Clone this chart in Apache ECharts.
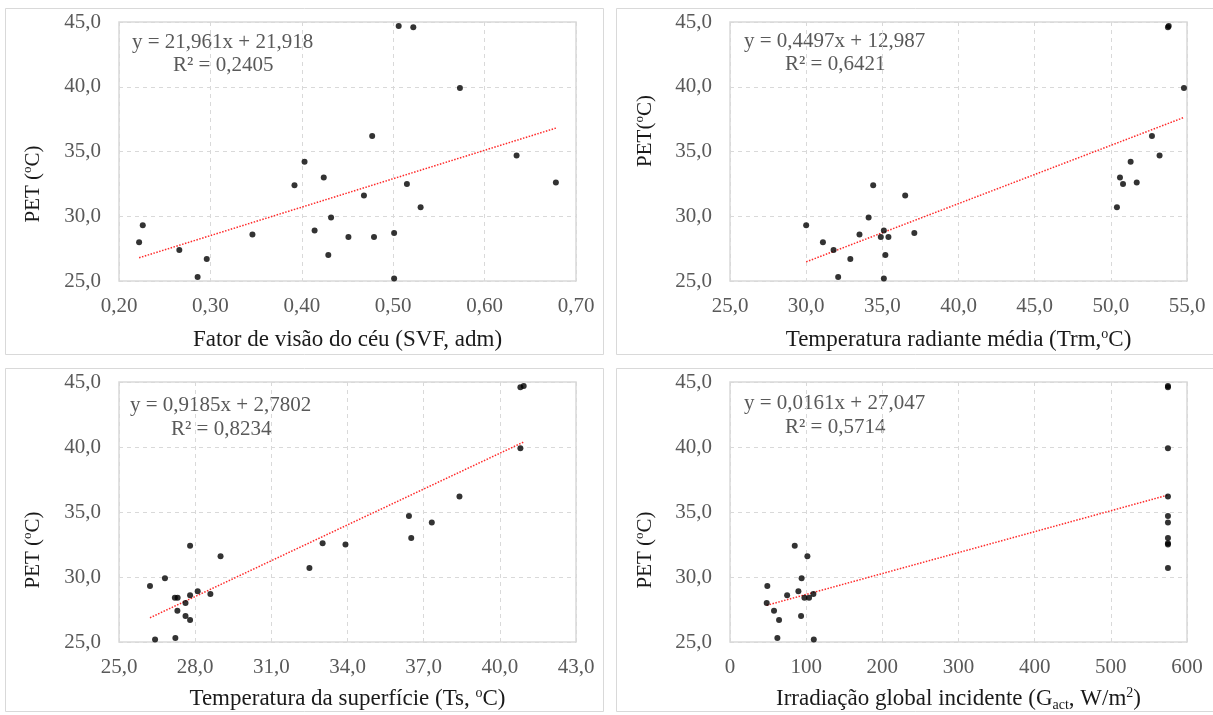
<!DOCTYPE html>
<html><head><meta charset="utf-8">
<script src="https://cdn.jsdelivr.net/npm/echarts@6/dist/echarts.min.js"></script>
<style>html,body{margin:0;padding:0;background:#fff}#c{width:1213px;height:715px}</style>
</head><body><div id="c"></div>
<script>
// PET values shared by all four panels (same 25 sites)
const pet  = [44.7,44.6,39.9,36.2,34.7,34.2,33.0,32.6,32.5,30.7,32.4,31.6,29.9,29.3,28.9,28.6,28.7,28.4,28.4,28.0,27.4,27.0,26.7,25.3,25.2];
const svf  = [0.506,0.522,0.573,0.477,0.635,0.403,0.424,0.678,0.515,0.530,0.392,0.468,0.432,0.226,0.414,0.346,0.501,0.451,0.479,0.222,0.266,0.429,0.296,0.286,0.501];
const trm  = [53.8,53.75,54.8,52.7,53.2,51.3,50.6,51.7,50.8,50.4,34.4,36.5,34.1,30.0,35.1,33.5,37.1,34.9,35.4,31.1,31.8,35.2,32.9,32.1,35.1];
const ts   = [40.94,40.81,40.81,38.41,36.42,37.32,36.51,33.02,33.92,32.5,27.8,29.0,26.81,26.22,28.1,27.8,28.6,27.2,27.31,27.62,27.3,27.62,27.8,27.22,26.42];
const gact = [575,575,575,575,575,575,575,575,575,575,85,101.6,94,49,89.8,75,109.5,97.7,103.8,48.2,57.8,93.3,64.4,62.2,110];
const slopes = [21.961, 0.4497, 0.9185, 0.0161];
const intercepts = [21.918, 12.987, 2.7802, 27.047];
const eqTexts = ['y = 21,961x + 21,918','y = 0,4497x + 12,987','y = 0,9185x + 2,7802','y = 0,0161x + 27,047'];
const r2Texts = ['R² = 0,2405','R² = 0,6421','R² = 0,8234','R² = 0,5714'];
const xTitles = ['Fator de visão do céu (SVF, adm)','Temperatura radiante média (Trm,{sup|o}C)','Temperatura da superfície (Ts, {sup|o}C)','Irradiação global incidente (G{sub|act}, W/m{sup|2})'];
const yTitles = ['PET ({sup|o}C)','PET({sup|o}C)','PET ({sup|o}C)','PET ({sup|o}C)'];
const xMins = [0.2, 25, 25, 0];
const xMaxs = [0.7, 55, 43, 600];
const xSteps = [0.1, 5, 3, 100];
const xDecimals = [2, 1, 1, 0];

const FONT = '"Liberation Serif", "Times New Roman", serif';
const LABEL_C = '#595959', TITLE_C = '#1a1a1a', GRID_C = '#d9d9d9';
const xsets = [svf, trm, ts, gact];

const grids = [
  {left:119, top:22, width:457, height:259},
  {left:730, top:22, width:457, height:259},
  {left:119, top:382, width:457, height:260},
  {left:730, top:382, width:457, height:260}
];
const richStyles = {
  sup:{fontFamily:FONT, fontSize:14, lineHeight:13, verticalAlign:'top', color:TITLE_C},
  sub:{fontFamily:FONT, fontSize:14, lineHeight:13, verticalAlign:'bottom', color:TITLE_C}
};
const fmt = (v,d) => Number(v).toFixed(d).replace('.', ',');

const xAxis = [], yAxis = [], series = [], graphic = [];
for (let i = 0; i < 4; i++) {
  const ax = {
    type:'value', gridIndex:i, min:xMins[i], max:xMaxs[i], interval:xSteps[i],
    axisLine:{show:false}, axisTick:{show:false},
    splitLine:{show:true, lineStyle:{color:GRID_C, type:[4,4], width:1}},
    axisLabel:{fontFamily:FONT, fontSize:21, color:LABEL_C, margin:15, formatter:v=>fmt(v,xDecimals[i])},
    name:xTitles[i], nameLocation:'middle', nameGap:i<2?46:44,
    nameTextStyle:{fontFamily:FONT, fontSize:23, color:TITLE_C, lineHeight:26, rich:richStyles}
  };
  if (i === 2) {
    const vals = []; for (let v = xMins[i]; v <= xMaxs[i] + 1e-9; v += xSteps[i]) vals.push(v);
    ax.axisLabel.customValues = vals; ax.axisTick.customValues = vals;
  }
  xAxis.push(ax);
  yAxis.push({
    type:'value', gridIndex:i, min:25, max:45, interval:5,
    axisLine:{show:false}, axisTick:{show:false},
    splitLine:{show:true, lineStyle:{color:GRID_C, type:[4,4], width:1}},
    axisLabel:{fontFamily:FONT, fontSize:21, color:LABEL_C, margin:18, formatter:v=>fmt(v,1)}
  });
  const xs = xsets[i];
  series.push({
    type:'scatter', xAxisIndex:i, yAxisIndex:i, symbol:'circle', symbolSize:6,
    itemStyle:{color:'#000'}, data: xs.map((x,k)=>[x, pet[k]]), z:3
  });
  const lo = Math.min(...xs), hi = Math.max(...xs);
  series.push({
    type:'line', xAxisIndex:i, yAxisIndex:i, showSymbol:false, silent:true,
    lineStyle:{color:'#ff2a2a', width:1.5, type:'dotted'},
    data:[[lo, slopes[i]*lo+intercepts[i]],[hi, slopes[i]*hi+intercepts[i]]], z:2
  });
}

// panel frames
const frames = [[5.5,8.5,598,346],[616.5,8.5,600,346],[5.5,368.5,598,343],[616.5,368.5,600,343]];
frames.forEach(f => graphic.push({type:'rect', silent:true, shape:{x:f[0],y:f[1],width:f[2],height:f[3]}, style:{fill:'none', stroke:GRID_C, lineWidth:1}}));
// equation labels
const eqPos = [[132,42,173,65],[744,41,785,64],[130,405,171,429],[744,403,785,427]];
eqPos.forEach((p,i) => {
  graphic.push({type:'text', silent:true, x:p[0], y:p[1], style:{text:eqTexts[i], fontFamily:FONT, fontSize:21, fill:LABEL_C, align:'left', verticalAlign:'middle'}});
  graphic.push({type:'text', silent:true, x:p[2], y:p[3], style:{text:r2Texts[i], fontFamily:FONT, fontSize:21, fill:LABEL_C, align:'left', verticalAlign:'middle'}});
});
// y-axis titles
const yTitlePos = [[33,184],[645,131],[33,550],[645,550]];
yTitlePos.forEach((p,i) => {
  graphic.push({type:'text', silent:true, x:p[0], y:p[1], rotation:Math.PI/2,
    style:{text:yTitles[i], fontFamily:FONT, fontSize:21, fill:TITLE_C, align:'center', verticalAlign:'middle', lineHeight:24,
      rich:{sup:{fontFamily:FONT, fontSize:13, lineHeight:12, verticalAlign:'top', fill:TITLE_C}}}});
});

const chart = echarts.init(document.getElementById('c'), null, {renderer:'canvas'});
chart.setOption({
  animation:false,
  backgroundColor:'#fff',
  grid: grids.map(g => Object.assign({show:true, borderColor:GRID_C, borderWidth:1.5, backgroundColor:'transparent', containLabel:false}, g)),
  xAxis, yAxis, series, graphic
});
</script></body></html>
